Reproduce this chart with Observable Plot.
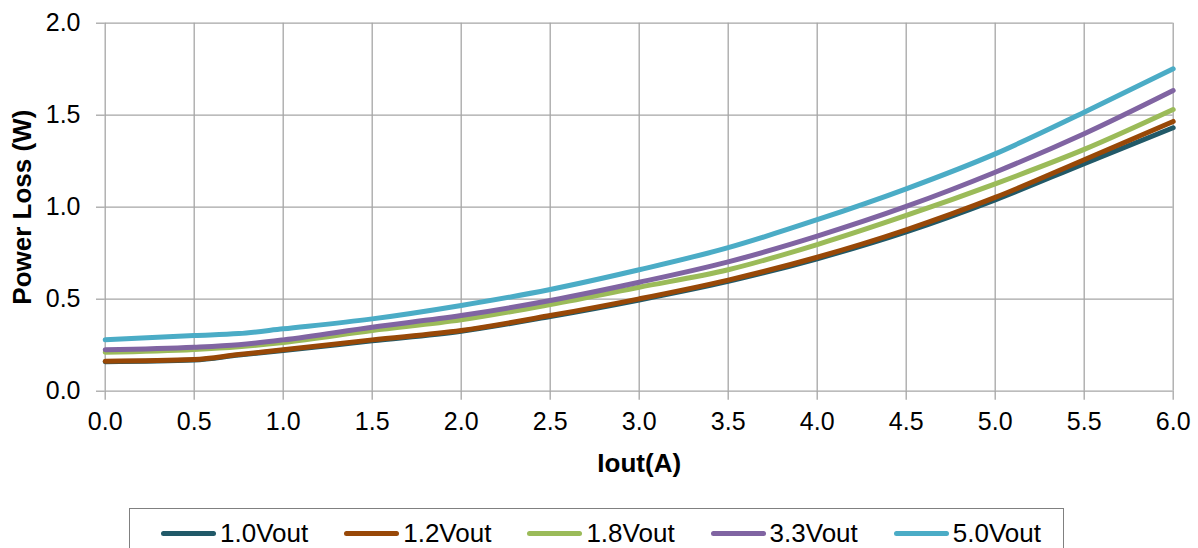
<!DOCTYPE html>
<html>
<head>
<meta charset="utf-8">
<script src="https://cdn.jsdelivr.net/npm/d3@7"></script>
<script src="https://cdn.jsdelivr.net/npm/@observablehq/plot@0.6"></script>
<style>
  html, body { margin: 0; padding: 0; background: #fff; }
  body { position: relative; width: 1198px; height: 548px; overflow: hidden; font-family: "Liberation Sans", Arial, sans-serif; }
  #chart { position: absolute; left: 0; top: 0; }
  #legend { position: absolute; left: 129px; top: 508px; width: 935px; height: 60px; border: 1.5px solid #808080; box-sizing: border-box; }
  #legend .items { display: flex; gap: 36px; padding-left: 31px; padding-top: 10px; }
  #legend .item { display: flex; align-items: center; gap: 4px; font-size: 26px; line-height: 28px; color: #000; }
  #legend .sw { width: 55px; height: 5px; border-radius: 2.5px; }
</style>
</head>
<body>
<div id="chart"></div>
<div id="legend"><div class="items"></div></div>
<script>
const iout = [0, 0.5, 0.75, 1.0, 1.5, 2.0, 2.5, 3.0, 3.5, 4.0, 4.5, 5.0, 5.5, 6.0];
const seriesNames = ["1.0Vout", "1.2Vout", "1.8Vout", "3.3Vout", "5.0Vout"];
const seriesColors = ["#215968", "#984807", "#9bbb59", "#8064a2", "#4bacc6"];
const v10 = [0.160, 0.169, 0.196, 0.221, 0.274, 0.326, 0.406, 0.496, 0.597, 0.720, 0.866, 1.040, 1.237, 1.432];
const v12 = [0.163, 0.172, 0.199, 0.225, 0.279, 0.330, 0.411, 0.502, 0.604, 0.728, 0.877, 1.053, 1.258, 1.466];
const v18 = [0.212, 0.227, 0.242, 0.265, 0.330, 0.388, 0.471, 0.565, 0.660, 0.797, 0.955, 1.127, 1.314, 1.531];
const v33 = [0.225, 0.239, 0.253, 0.279, 0.348, 0.411, 0.493, 0.592, 0.703, 0.843, 1.004, 1.190, 1.399, 1.634];
const v50 = [0.279, 0.303, 0.313, 0.339, 0.393, 0.466, 0.553, 0.660, 0.780, 0.932, 1.100, 1.290, 1.516, 1.752];
const xTicks = [0, 0.5, 1.0, 1.5, 2.0, 2.5, 3.0, 3.5, 4.0, 4.5, 5.0, 5.5, 6.0];
const yTicks = [0, 0.5, 1.0, 1.5, 2.0];
const xLabel = "Iout(A)";
const yLabel = "Power Loss (W)";

const allValues = [v10, v12, v18, v33, v50];
const rows = [];
seriesNames.forEach((name, si) => {
  iout.forEach((x, i) => rows.push({series: name, x, y: allValues[si][i]}));
});

const gray = "#a6a6a6";
const fmt = d3.format(".1f");

const chart = Plot.plot({
  width: 1198,
  height: 500,
  marginLeft: 104.7,
  marginRight: 25.3,
  marginTop: 22.7,
  marginBottom: 109.3,
  style: {fontFamily: "'Liberation Sans', Arial, sans-serif", fontSize: "25px", color: "#000", background: "#fff"},
  x: {domain: [0, 6]},
  y: {domain: [0, 2]},
  color: {domain: seriesNames, range: seriesColors},
  marks: [
    Plot.gridX(xTicks, {stroke: gray, strokeOpacity: 1, strokeWidth: 1.3}),
    Plot.gridY(yTicks, {stroke: gray, strokeOpacity: 1, strokeWidth: 1.3}),
    Plot.axisX(xTicks, {tickFormat: fmt, tickSize: 9, tickPadding: 12, stroke: gray, strokeWidth: 1.3, fill: "#000", label: null, fontSize: 25}),
    Plot.axisY(yTicks, {tickFormat: fmt, tickSize: 8.7, tickPadding: 16, stroke: gray, strokeWidth: 1.3, fill: "#000", label: null, fontSize: 25}),
    Plot.line(rows, {x: "x", y: "y", z: "series", stroke: "series", strokeWidth: 5, curve: "monotone-x"}),
    Plot.text([xLabel], {frameAnchor: "bottom", dy: 72, text: d => d, textAnchor: "middle", lineAnchor: "middle", fontWeight: "bold", fontSize: 26, fill: "#000"}),
    Plot.text([yLabel], {frameAnchor: "left", dx: -83, rotate: -90, text: d => d, textAnchor: "middle", lineAnchor: "middle", fontWeight: "bold", fontSize: 26, fill: "#000"})
  ]
});
document.getElementById("chart").appendChild(chart);

const items = document.querySelector("#legend .items");
seriesNames.forEach((name, i) => {
  const it = document.createElement("div");
  it.className = "item";
  const sw = document.createElement("span");
  sw.className = "sw";
  sw.style.background = seriesColors[i];
  const tx = document.createElement("span");
  tx.textContent = name;
  it.appendChild(sw);
  it.appendChild(tx);
  items.appendChild(it);
});
</script>
</body>
</html>
